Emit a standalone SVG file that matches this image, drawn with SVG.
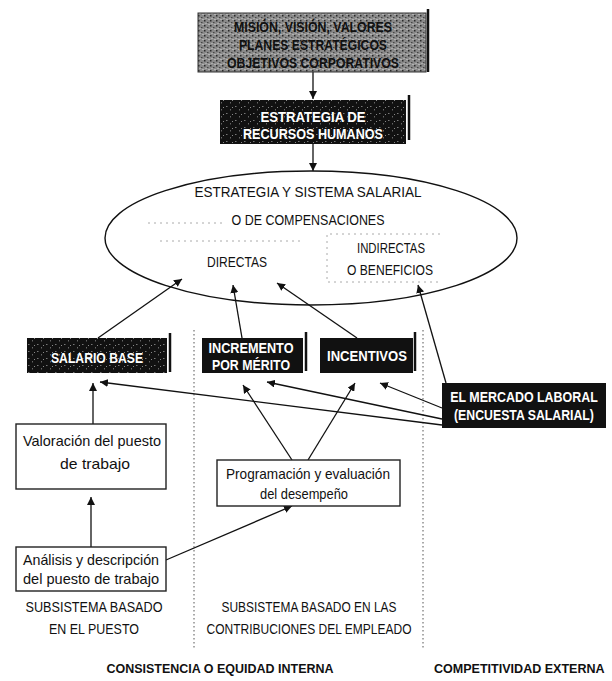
<svg xmlns="http://www.w3.org/2000/svg" width="612" height="681" viewBox="0 0 612 681">
  <defs>
    <style>
      text { font-family: "Liberation Sans Narrow", "Liberation Sans", Arial, sans-serif; text-anchor: middle; }
      .cap { font-size: 15px; fill: #111; }
      .inv { font-size: 15px; fill: #fff; font-weight: bold; }
      .dark { font-size: 15px; fill: #111; font-weight: bold; }
      .low { font-size: 14.5px; fill: #111; }
      .foot { font-size: 13.5px; fill: #111; font-weight: bold; }
      .box-dark { fill: #111; }
      .box-white { fill: #fff; stroke: #222; stroke-width: 1.4; }
      .side { stroke: #111; stroke-width: 2.5; }
      .edge { stroke: #111; stroke-width: 1.3; fill: none; marker-end: url(#head); }
      .divider { stroke: #555; stroke-width: 1; stroke-dasharray: 1.5 2.5; }
      .faint { stroke: #aaa; stroke-width: 1; stroke-dasharray: 2 4; fill: none; }
    </style>
    <marker id="head" viewBox="0 0 10 10" refX="10" refY="5" markerWidth="8" markerHeight="8" markerUnits="userSpaceOnUse" orient="auto">
      <path d="M0,0 L10,5 L0,10 z" fill="#111"/>
    </marker>
    <!-- halftone speckle used on the printed boxes -->
    <pattern id="speckle" width="9" height="7" patternUnits="userSpaceOnUse">
      <rect x="1" y="1" width="1.5" height="1" fill="#777"/>
      <rect x="5" y="4" width="1" height="1.5" fill="#666"/>
      <rect x="7" y="2" width="1" height="1" fill="#888"/>
    </pattern>
    <pattern id="grain" width="6" height="5" patternUnits="userSpaceOnUse">
      <rect width="6" height="5" fill="#8a8a8a"/>
      <rect x="0" y="0" width="1.5" height="1.5" fill="#2a2a2a"/>
      <rect x="3" y="2" width="1.5" height="1" fill="#444"/>
      <rect x="4.5" y="4" width="1" height="1" fill="#ddd"/>
      <rect x="1.5" y="3" width="1" height="1" fill="#ccc"/>
    </pattern>
  </defs>

  <rect width="612" height="681" fill="#fff"/>

  <!-- column dividers -->
  <g id="dividers">
    <line class="divider" x1="194" y1="330" x2="194" y2="648"/>
    <line class="divider" x1="423" y1="330" x2="423" y2="648"/>
  </g>

  <!-- connectors -->
  <g id="connectors">
    <line class="edge" x1="313" y1="72" x2="313" y2="99"/>
    <line class="edge" x1="313" y1="144" x2="313" y2="171"/>
    <line class="edge" x1="98" y1="338" x2="182" y2="279"/>
    <line class="edge" x1="242" y1="338" x2="233" y2="285"/>
    <line class="edge" x1="357" y1="338" x2="277" y2="283"/>
    <line class="edge" x1="446" y1="383" x2="418" y2="285"/>
    <line class="edge" x1="442" y1="425" x2="100" y2="382"/>
    <line class="edge" x1="442" y1="419" x2="267" y2="382"/>
    <line class="edge" x1="442" y1="408" x2="380" y2="383"/>
    <line class="edge" x1="93" y1="424" x2="93" y2="383"/>
    <line class="edge" x1="91" y1="547" x2="91" y2="497"/>
    <line class="edge" x1="166" y1="560" x2="292" y2="506"/>
    <line class="edge" x1="292" y1="460" x2="243" y2="385"/>
    <line class="edge" x1="308" y1="460" x2="355" y2="383"/>
  </g>

  <g id="mision">
    <rect x="198" y="13" width="228" height="59" fill="url(#grain)" stroke="#333" stroke-width="1"/>
    <line class="side" x1="428" y1="9" x2="428" y2="72"/>
    <text class="dark" x="313" y="32" textLength="158" lengthAdjust="spacingAndGlyphs">MISIÓN, VISIÓN, VALORES</text>
    <text class="dark" x="313" y="50" textLength="148" lengthAdjust="spacingAndGlyphs">PLANES ESTRATÉGICOS</text>
    <text class="dark" x="313" y="68" textLength="172" lengthAdjust="spacingAndGlyphs">OBJETIVOS CORPORATIVOS</text>
  </g>

  <g id="estrategia-rh">
    <rect class="box-dark" x="220" y="100" width="186" height="44"/>
    <rect x="220" y="100" width="186" height="44" fill="url(#speckle)"/>
    <line class="side" x1="409" y1="95" x2="409" y2="140"/>
    <text class="inv" x="313" y="122" textLength="105" lengthAdjust="spacingAndGlyphs">ESTRATEGIA DE</text>
    <text class="inv" x="313" y="139" textLength="140" lengthAdjust="spacingAndGlyphs">RECURSOS HUMANOS</text>
  </g>

  <g id="sistema-salarial">
    <ellipse cx="311" cy="238" rx="206" ry="67" fill="none" stroke="#111" stroke-width="1.4"/>
    <text class="cap" x="308" y="197" textLength="227" lengthAdjust="spacingAndGlyphs">ESTRATEGIA Y SISTEMA SALARIAL</text>
    <text class="cap" x="308" y="225" textLength="153" lengthAdjust="spacingAndGlyphs">O DE COMPENSACIONES</text>
    <polyline class="faint" points="148,223 225,223"/>
    <polyline class="faint" points="160,241 300,241"/>
    <polyline class="faint" points="440,234 327,234 327,282 440,282"/>
    <text class="cap" x="237" y="267" font-size="13" textLength="60" lengthAdjust="spacingAndGlyphs">DIRECTAS</text>
    <text class="cap" x="391" y="253" font-size="13" textLength="68" lengthAdjust="spacingAndGlyphs">INDIRECTAS</text>
    <text class="cap" x="390" y="275" font-size="13" textLength="86" lengthAdjust="spacingAndGlyphs">O BENEFICIOS</text>
  </g>

  <g id="salario-base">
    <rect class="box-dark" x="27" y="338" width="140" height="35"/>
    <rect x="27" y="338" width="140" height="35" fill="url(#speckle)"/>
    <line class="side" x1="170" y1="333" x2="170" y2="372"/>
    <text class="inv" x="97" y="363" textLength="92" lengthAdjust="spacingAndGlyphs">SALARIO BASE</text>
  </g>

  <g id="incremento">
    <rect class="box-dark" x="202" y="338" width="101" height="35"/>
    <line class="side" x1="306" y1="332" x2="306" y2="371"/>
    <text class="inv" x="251" y="353" font-size="14" textLength="85" lengthAdjust="spacingAndGlyphs">INCREMENTO</text>
    <text class="inv" x="251" y="370" font-size="14" textLength="78" lengthAdjust="spacingAndGlyphs">POR MÉRITO</text>
  </g>

  <g id="incentivos">
    <rect class="box-dark" x="320" y="338" width="93" height="35"/>
    <line class="side" x1="415" y1="332" x2="415" y2="371"/>
    <text class="inv" x="367" y="361" font-size="14" textLength="80" lengthAdjust="spacingAndGlyphs">INCENTIVOS</text>
  </g>

  <g id="mercado">
    <rect class="box-dark" x="442" y="383" width="164" height="45"/>
    <!-- condensed by a horizontal scale -->
    <text class="inv" transform="translate(524,402) scale(0.83,1)">EL MERCADO LABORAL</text>
    <text class="inv" transform="translate(524,420) scale(0.82,1)">(ENCUESTA SALARIAL)</text>
  </g>

  <g id="valoracion">
    <rect class="box-white" x="16" y="424" width="150" height="65"/>
    <text class="low" x="92" y="446" textLength="138" lengthAdjust="spacingAndGlyphs">Valoración del puesto</text>
    <text class="low" x="95" y="469" textLength="70" lengthAdjust="spacingAndGlyphs">de trabajo</text>
  </g>

  <g id="programacion">
    <rect class="box-white" x="217" y="460" width="183" height="46"/>
    <text class="low" x="308" y="479" textLength="164" lengthAdjust="spacingAndGlyphs">Programación y evaluación</text>
    <text class="low" x="304" y="499" textLength="88" lengthAdjust="spacingAndGlyphs">del desempeño</text>
  </g>

  <g id="analisis">
    <rect class="box-white" x="16" y="547" width="150" height="44"/>
    <text class="low" x="91" y="565" textLength="136" lengthAdjust="spacingAndGlyphs">Análisis y descripción</text>
    <text class="low" x="91" y="584" textLength="136" lengthAdjust="spacingAndGlyphs">del puesto de trabajo</text>
  </g>

  <g id="leyendas">
    <text class="cap" x="94" y="612" textLength="137" lengthAdjust="spacingAndGlyphs">SUBSISTEMA BASADO</text>
    <text class="cap" x="94" y="634" textLength="90" lengthAdjust="spacingAndGlyphs">EN EL PUESTO</text>
    <text class="cap" x="309" y="612" textLength="175" lengthAdjust="spacingAndGlyphs">SUBSISTEMA BASADO EN LAS</text>
    <text class="cap" x="309" y="634" textLength="205" lengthAdjust="spacingAndGlyphs">CONTRIBUCIONES DEL EMPLEADO</text>
    <text class="foot" x="220" y="673" textLength="227" lengthAdjust="spacingAndGlyphs">CONSISTENCIA O EQUIDAD INTERNA</text>
    <text class="foot" transform="translate(434,673) scale(0.93,1)" style="text-anchor:start">COMPETITIVIDAD EXTERNA</text>
  </g>
</svg>
